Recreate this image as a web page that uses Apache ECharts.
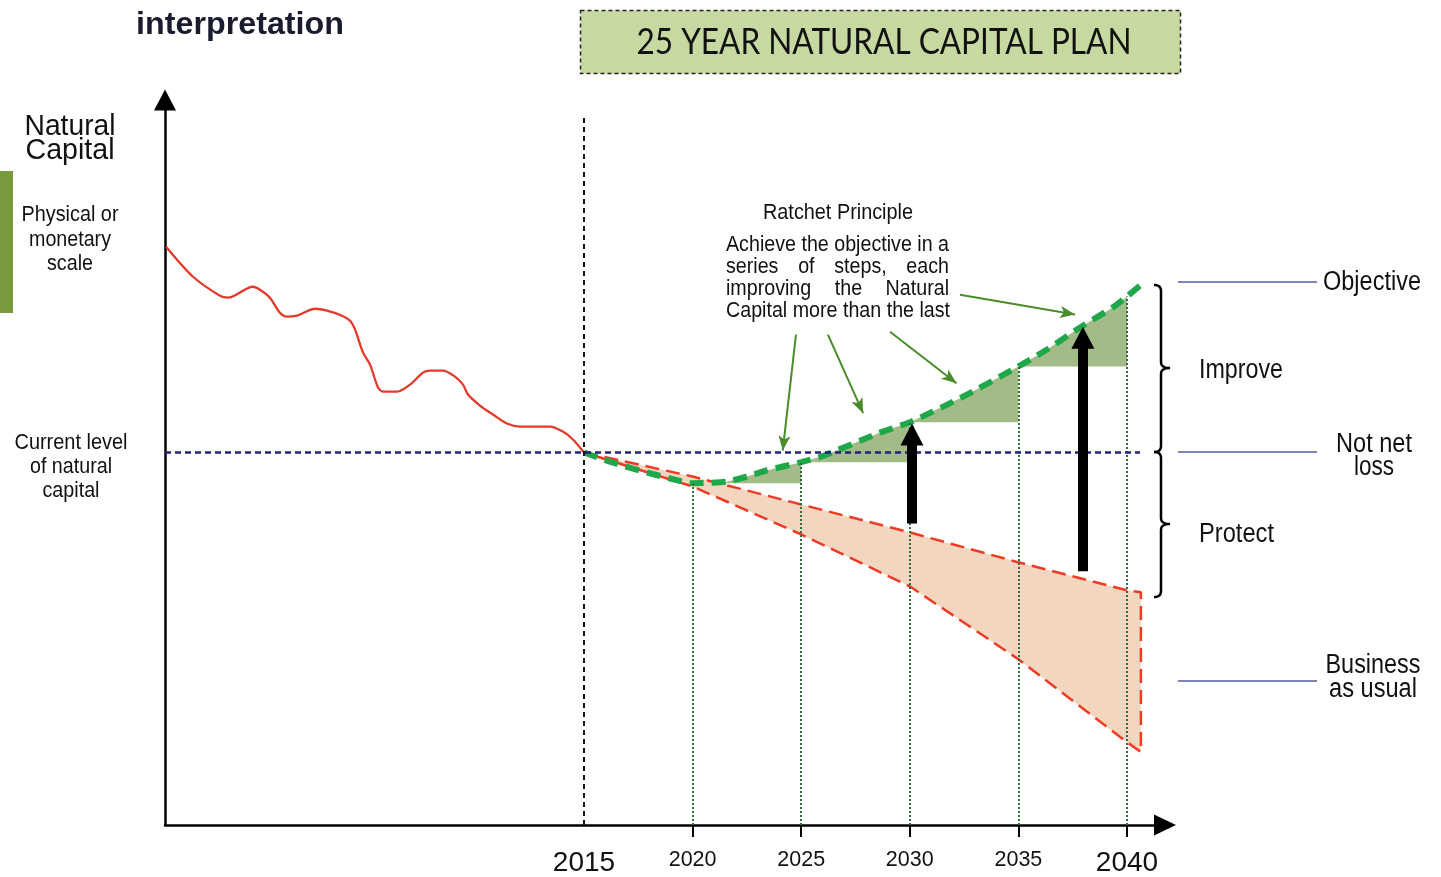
<!DOCTYPE html>
<html>
<head>
<meta charset="utf-8">
<script src="https://cdn.jsdelivr.net/npm/echarts@6/dist/echarts.min.js"></script>
<style>html,body{margin:0;padding:0;background:#fff}#c{width:1441px;height:877px}</style>
</head>
<body>
<div id="c"></div>
<script>
// ---------------- data ----------------
const historyYears  = [1995.76,1997.00,1998.24,1998.60,1999.76,2000.08,2000.54,2001.00,2001.33,2001.79,2002.62,2003.17,2003.86,2004.23,2004.46,2004.83,2005.15,2005.52,2005.75,2006.39,2006.99,2007.59,2007.91,2008.51,2009.06,2009.43,2009.66,2010.21,2010.81,2011.45,2012.05,2013.43,2014.03,2014.49,2015.00];
const historyValues = [79.75,75.62,73.00,72.73,74.24,73.83,72.73,70.66,70.11,70.25,71.21,70.94,70.25,69.56,68.32,65.15,63.50,60.33,59.78,59.78,60.74,62.40,62.67,62.67,61.85,60.74,59.37,57.85,56.61,55.37,54.96,54.96,54.27,53.17,51.38];

const currentLevel = 51.38;

const bauYears  = [2015, 2020, 2025, 2030, 2035, 2040, 2040.64];
const bauUpper  = [51.38, 48.07, 44.21, 40.36, 36.23, 32.37, 32.09];
const bauLower  = [51.38, 46.69, 40.08, 32.92, 22.87, 11.43, 10.06];

const objectiveYears  = [2015, 2016.3, 2017.9, 2019.7, 2020, 2020.9, 2021.6, 2022.5, 2023.4, 2025, 2026, 2028.6, 2030, 2032.4, 2035, 2036.3, 2037.8, 2039.4, 2040, 2040.7];
const objectiveValues = [51.38, 50.00, 48.62, 47.25, 47.15, 47.20, 47.38, 48.07, 48.90, 50.05, 50.90, 54.10, 55.55, 59.00, 63.25, 65.55, 68.55, 71.50, 72.90, 74.66];

const stepStartYears = [2021.4, 2025, 2030, 2035];
const stepEndYears   = [2025, 2030, 2035, 2040];
const stepBaseValues = [47.15, 50.05, 55.55, 63.25];

const tickYears  = [2020, 2025, 2030, 2035, 2040];
const labelYears = [2015, 2020, 2025, 2030, 2035, 2040];
const bigLabelYears = [2015, 2040];

const arrowYears  = [2030.10, 2037.97];
const arrowFrom   = [41.60, 34.99];
const arrowTo     = [53.86, 67.22];

const noteFromX = [2024.76, 2026.23, 2029.09, 2032.31];
const noteFromY = [67.63, 67.63, 68.04, 73.14];
const noteToX   = [2024.15, 2027.85, 2032.15, 2037.61];
const noteToY   = [51.64, 56.80, 60.92, 70.41];

const pastLimitTop = 97.52;   // top of the 2015 marker line
const levelEndYear = 2040.6;

// ---------------- helpers ----------------
const xMin = 1995.71, xMax = 2041.75;
const SANS = "'Liberation Sans', Arial, Helvetica, sans-serif";
const cv = document.createElement('canvas').getContext('2d');
function measure(t, size, fam, bold) {
  cv.font = (bold ? 'bold ' : '') + size + 'px ' + fam;
  return cv.measureText(t).width;
}
function hasFont(f) {
  const a = measure('2020 Objective', 50, '"' + f + '", monospace');
  const b = measure('2020 Objective', 50, 'monospace');
  return Math.abs(a - b) > 0.5;
}
const narrow = hasFont('Liberation Sans Narrow');
const NARROW = narrow ? "'Liberation Sans Narrow', 'Liberation Sans', Arial, sans-serif" : SANS;

function txt(t, x, y, size, width, align, o) {
  o = o || {};
  const fam = o.family || SANS;
  const w = measure(t, size, fam, o.bold);
  return {
    type: 'text', x: x, y: y, scaleX: width / w, z: 100, silent: true,
    style: { text: t, fontSize: size, fontFamily: fam, fontWeight: o.bold ? 'bold' : 'normal',
      fill: o.color || '#111', align: align, verticalAlign: 'middle' }
  };
}
function justify(words, left, right, y, size, scale) {
  const ws = words.map(w => measure(w, size, SANS) * scale);
  const gap = (right - left - ws.reduce((a, b) => a + b, 0)) / (words.length - 1);
  let x = left; const out = [];
  words.forEach((w, i) => { out.push(txt(w, x, y, size, ws[i], 'left')); x += ws[i] + gap; });
  return out;
}
function quad(pts, p0, p1, p2) {
  for (let k = 0; k <= 8; k++) {
    const t = k / 8, u = 1 - t;
    pts.push([u * u * p0[0] + 2 * u * t * p1[0] + t * t * p2[0], u * u * p0[1] + 2 * u * t * p1[1] + t * t * p2[1]]);
  }
}
function brace(x, yTop, yMid, yBot) {
  const r = 6, pts = [];
  quad(pts, [x - 7, yTop], [x, yTop], [x, yTop + r]);
  quad(pts, [x, yMid - r], [x, yMid], [x + 9, yMid]);
  quad(pts, [x + 9, yMid], [x, yMid], [x, yMid + r]);
  quad(pts, [x, yBot - r], [x, yBot], [x - 7, yBot]);
  return { type: 'polyline', shape: { points: pts }, style: { fill: null, stroke: '#000', lineWidth: 2.5 }, silent: true };
}
function objectiveAt(year) {
  for (let i = 0; i < objectiveYears.length - 1; i++) {
    const a = objectiveYears[i], b = objectiveYears[i + 1];
    if (year >= a && year <= b) return objectiveValues[i] + (objectiveValues[i + 1] - objectiveValues[i]) * (year - a) / (b - a);
  }
  return objectiveValues[objectiveValues.length - 1];
}
const zip = (xs, ys) => xs.map((x, i) => [x, ys[i]]);

// ---------------- graphics (texts, decorations) ----------------
const paraSize = 22;
const paraScale = 223 / measure('Achieve the objective in a', paraSize, SANS);
const graphics = [
  { type: 'rect', shape: { x: 0, y: 171, width: 13, height: 142 }, style: { fill: '#789a3c' }, silent: true },
  { type: 'rect', shape: { x: 580.5, y: 10.5, width: 600, height: 63 }, style: { fill: '#c6d9a1', stroke: '#222', lineWidth: 1.5, lineDash: [4, 3] }, silent: true },
  txt('25 YEAR NATURAL CAPITAL PLAN', 884, 42, 36, 495, 'center', { family: "Lato, 'Open Sans', sans-serif" }),
  txt('interpretation', 136, 25, 31, 208, 'left', { bold: true, color: '#1b1b30' }),
  txt('Natural', 70, 127, 29, 91, 'center'),
  txt('Capital', 70, 151, 29, 89, 'center'),
  txt('Physical or', 70, 215, 22, 97, 'center'),
  txt('monetary', 70, 240, 22, 82, 'center'),
  txt('scale', 70, 264, 22, 46, 'center'),
  txt('Current level', 71, 443, 22, 113, 'center'),
  txt('of natural', 71, 467, 22, 82, 'center'),
  txt('capital', 71, 491, 22, 57, 'center'),
  txt('Ratchet Principle', 838, 213, 22, 150, 'center'),
  txt('Achieve the objective in a', 726, 245, paraSize, 223, 'left'),
  ...justify(['series', 'of', 'steps,', 'each'], 726, 949, 267, paraSize, paraScale),
  ...justify(['improving', 'the', 'Natural'], 726, 949, 289, paraSize, paraScale),
  txt('Capital more than the last', 726, 311, paraSize, measure('Capital more than the last', paraSize, SANS) * paraScale, 'left'),
  txt('Objective', 1323, 283, 27, 98, 'left'),
  txt('Improve', 1199, 371, 27, 84, 'left'),
  txt('Not net', 1374, 445, 27, 76, 'center'),
  txt('loss', 1374, 468, 27, 40, 'center'),
  txt('Protect', 1199, 535, 27, 75, 'left'),
  txt('Business', 1373, 666, 27, 95, 'center'),
  txt('as usual', 1373, 690, 27, 88, 'center'),
  brace(1161, 285, 368, 452),
  brace(1161, 452, 524, 597),
  { type: 'line', shape: { x1: 1178, y1: 282, x2: 1317, y2: 282 }, style: { stroke: '#5a5aa5', lineWidth: 1.5 }, silent: true },
  { type: 'line', shape: { x1: 1178, y1: 452, x2: 1317, y2: 452 }, style: { stroke: '#5a5aa5', lineWidth: 1.5 }, silent: true },
  { type: 'line', shape: { x1: 1178, y1: 681, x2: 1317, y2: 681 }, style: { stroke: '#5a5aa5', lineWidth: 1.5 }, silent: true }
];

// ---------------- chart ----------------
const chart = echarts.init(document.getElementById('c'), null, { renderer: 'canvas' });
const markSeries = (z, markLine) => ({ type: 'line', data: [], z: z, silent: true, markLine: Object.assign({ silent: true, animation: false, symbol: 'none', label: { show: false } }, markLine) });

const option = {
  animation: false,
  backgroundColor: '#fff',
  textStyle: { fontFamily: SANS },
  grid: { left: 165, right: 276, top: 100, bottom: 51 },
  xAxis: {
    type: 'value', min: xMin, max: xMax,
    axisLine: { show: true, onZero: true, symbol: ['none', 'triangle'], symbolSize: [21, 22], lineStyle: { color: '#000', width: 2.5 } },
    axisTick: { show: true, customValues: tickYears, length: 12, lineStyle: { color: '#000', width: 2 } },
    axisLabel: {
      show: true, customValues: labelYears, margin: 22,
      formatter: v => (bigLabelYears.indexOf(v) >= 0 ? '{big|' + v + '}' : '{small|' + v + '}'),
      rich: {
        big: { fontSize: narrow ? 34 : 28, fontFamily: NARROW, lineHeight: 32, color: '#111' },
        small: { fontSize: narrow ? 26 : 21.5, fontFamily: NARROW, lineHeight: 26, color: '#111' }
      }
    },
    splitLine: { show: false }
  },
  yAxis: {
    type: 'value', min: 0, max: 100,
    axisLine: { show: true, onZero: false, symbol: ['none', 'triangle'], symbolSize: [22, 21], lineStyle: { color: '#000', width: 2.5 } },
    axisTick: { show: false }, axisLabel: { show: false }, splitLine: { show: false }
  },
  graphic: graphics,
  series: [
    {
      type: 'custom', name: 'bauArea', z: 1, silent: true, clip: false,
      data: [[bauYears[0], bauUpper[0]]],
      renderItem: (p, api) => {
        const up = bauYears.map((y, i) => api.coord([y, bauUpper[i]]));
        const lo = bauYears.map((y, i) => api.coord([y, bauLower[i]])).reverse();
        return { type: 'polygon', shape: { points: up.concat(lo) }, style: { fill: '#f3d6c0' } };
      }
    },
    {
      type: 'custom', name: 'steps', z: 1, silent: true, clip: false,
      data: stepStartYears.map((s, i) => [s, stepBaseValues[i]]),
      renderItem: (p, api) => {
        const i = p.dataIndex, s = stepStartYears[i], e = stepEndYears[i], b = stepBaseValues[i];
        const pts = [api.coord([s, b])];
        objectiveYears.forEach((y, k) => { if (y > s && y < e) pts.push(api.coord([y, objectiveValues[k]])); });
        pts.push(api.coord([e, objectiveAt(e)]));
        pts.push(api.coord([e, b]));
        return { type: 'polygon', shape: { points: pts }, style: { fill: '#a3bc87' } };
      }
    },
    markSeries(2, { lineStyle: { color: '#2f6e3b', width: 2, type: [2, 2] },
      data: tickYears.map(y => [{ coord: [y, 0] }, { coord: [y, objectiveAt(y)] }]) }),
    markSeries(2, { lineStyle: { color: '#111', width: 2, type: [5, 4] },
      data: [[{ coord: [2015, 0] }, { coord: [2015, pastLimitTop] }]] }),
    markSeries(2, { lineStyle: { color: '#22227a', width: 2.5, type: [6, 4] },
      data: [[{ coord: [xMin, currentLevel] }, { coord: [levelEndYear, currentLevel] }]] }),
    {
      type: 'line', name: 'history', z: 3, silent: true, symbol: 'none', smooth: 0.3,
      data: zip(historyYears, historyValues),
      lineStyle: { color: '#e5392a', width: 2.3 }
    },
    {
      type: 'line', name: 'businessAsUsual', z: 3, silent: true, symbol: 'none',
      data: zip(bauYears, bauUpper).concat(zip(bauYears, bauLower).reverse()),
      lineStyle: { color: '#ef3b24', width: 2.5, type: [14, 7] }
    },
    {
      type: 'line', name: 'objective', z: 4, silent: true, symbol: 'none', smooth: 0.25,
      data: zip(objectiveYears, objectiveValues),
      lineStyle: { color: '#1fa84a', width: 6, type: [14, 8] }
    },
    markSeries(6, { symbol: ['none', 'triangle'], symbolSize: [23, 22], lineStyle: { color: '#000', width: 10, type: 'solid' },
      data: arrowYears.map((x, i) => [{ coord: [x, arrowFrom[i]] }, { coord: [x, arrowTo[i]] }]) }),
    markSeries(6, { symbol: ['none', 'arrow'], symbolSize: [9, 15], lineStyle: { color: '#4a8c2a', width: 2, type: 'solid' },
      data: noteFromX.map((x, i) => [{ coord: [x, noteFromY[i]] }, { coord: [noteToX[i], noteToY[i]] }]) })
  ]
};
chart.setOption(option);
</script>
</body>
</html>
